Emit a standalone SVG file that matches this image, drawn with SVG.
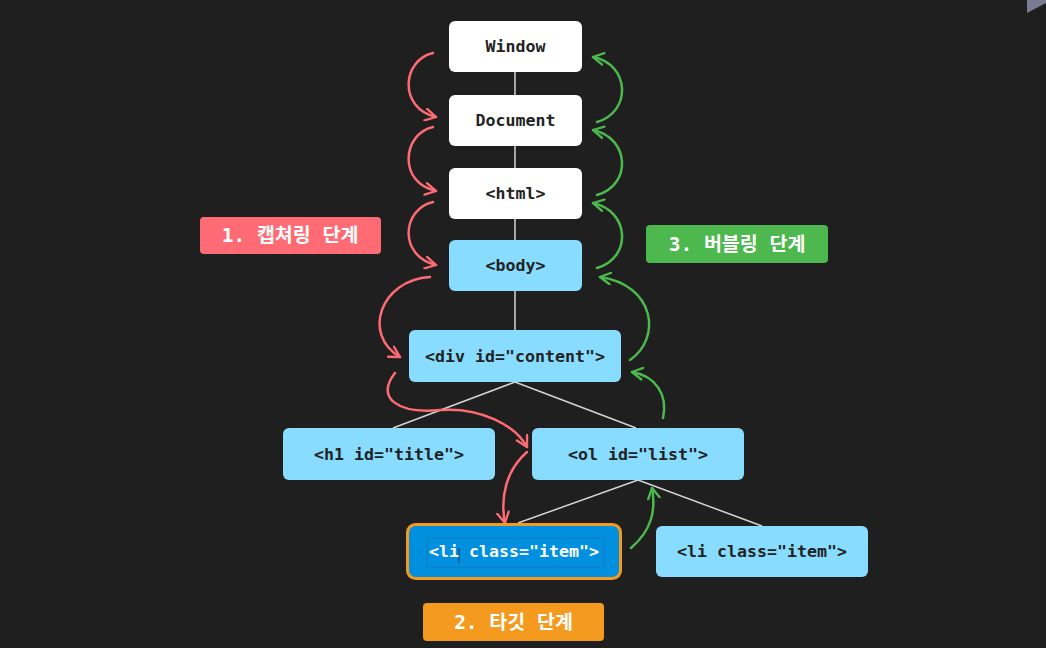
<svg xmlns="http://www.w3.org/2000/svg" width="1046" height="648" viewBox="0 0 1046 648">
<defs>
<style>
.bg{fill:#1f1f1f}
.node{stroke:none}
.white{fill:#ffffff}
.blue{fill:#87dcff}
.t{font-family:"DejaVu Sans Mono","Liberation Mono",monospace;font-weight:bold;font-size:16.6px;fill:#222222;text-anchor:middle;dominant-baseline:central}
.tw{fill:#ffffff}
.lbl{font-family:"DejaVu Sans Mono","Noto Sans CJK KR",monospace;font-weight:bold;font-size:19.5px;fill:#ffffff;text-anchor:middle;dominant-baseline:central}
.edge{stroke:#d4d4d4;stroke-width:1.5;fill:none}
.red{stroke:#ff6b74;stroke-width:2.5;fill:none;stroke-linecap:round}
.green{stroke:#4db84d;stroke-width:2.5;fill:none;stroke-linecap:round}
</style>
<marker id="ar" viewBox="0 0 12 12" refX="10" refY="6" markerWidth="14" markerHeight="14" markerUnits="userSpaceOnUse" orient="auto">
<path d="M1,1 L10,6 L1,11" fill="none" stroke="#ff6b74" stroke-width="2" stroke-linecap="round" stroke-linejoin="round"/>
</marker>
<marker id="ag" viewBox="0 0 12 12" refX="10" refY="6" markerWidth="14" markerHeight="14" markerUnits="userSpaceOnUse" orient="auto">
<path d="M1,1 L10,6 L1,11" fill="none" stroke="#4db84d" stroke-width="2" stroke-linecap="round" stroke-linejoin="round"/>
</marker>
</defs>
<rect class="bg" x="0" y="0" width="1046" height="648"/>
<polygon points="1027,0 1046,0 1046,3 1027,13" fill="#7a7a90"/>

<g id="connectors">
<line class="edge" x1="515" y1="72" x2="515" y2="95"/>
<line class="edge" x1="515" y1="146" x2="515" y2="168"/>
<line class="edge" x1="515" y1="219" x2="515" y2="240"/>
<line class="edge" x1="515" y1="291" x2="515" y2="330"/>
<line class="edge" x1="515" y1="382" x2="393" y2="428"/>
<line class="edge" x1="515" y1="382" x2="636" y2="428"/>
<line class="edge" x1="638" y1="480" x2="518" y2="523"/>
<line class="edge" x1="638" y1="480" x2="762" y2="526"/>

<path class="red" marker-end="url(#ar)" d="M433,53 C402,60 398,108 436,117"/>
<path class="red" marker-end="url(#ar)" d="M433,127 C402,134 398,183 436,191"/>
<path class="red" marker-end="url(#ar)" d="M433,202 C402,209 398,256 436,265"/>
<path class="red" marker-end="url(#ar)" d="M430,277 C380,280 362,335 400,357"/>
<path class="red" marker-end="url(#ar)" d="M395,373 C375,398 398,414 440,410 C480,407 515,425 527,447"/>
<path class="red" marker-end="url(#ar)" d="M527,452 C506,470 500,498 505,523"/>

<path class="green" marker-end="url(#ag)" d="M597,122 C632,112 630,64 593,57"/>
<path class="green" marker-end="url(#ag)" d="M597,195 C632,185 630,138 593,130"/>
<path class="green" marker-end="url(#ag)" d="M597,268 C632,258 630,211 593,203"/>
<path class="green" marker-end="url(#ag)" d="M630,360 C662,338 655,285 600,277"/>
<path class="green" marker-end="url(#ag)" d="M663,418 C668,395 656,376 632,372"/>
<path class="green" marker-end="url(#ag)" d="M631,548 C652,530 656,510 652,488"/>
</g>

<g id="window"><rect class="node white" x="449" y="21" width="133" height="51" rx="6"/><text class="t" x="515.5" y="46.5">Window</text></g>
<g id="document"><rect class="node white" x="449" y="95" width="133" height="51" rx="6"/><text class="t" x="515.5" y="120.5">Document</text></g>
<g id="html"><rect class="node white" x="449" y="168" width="133" height="51" rx="6"/><text class="t" x="515.5" y="193.5">&lt;html&gt;</text></g>
<g id="body"><rect class="node blue" x="449" y="240" width="133" height="51" rx="6"/><text class="t" x="515.5" y="265.5">&lt;body&gt;</text></g>
<g id="div"><rect class="node blue" x="409" y="330" width="212" height="52" rx="6"/><text class="t" x="515" y="356">&lt;div id="content"&gt;</text></g>
<g id="h1"><rect class="node blue" x="283" y="428" width="212" height="52" rx="6"/><text class="t" x="389" y="454">&lt;h1 id="title"&gt;</text></g>
<g id="ol"><rect class="node blue" x="532" y="428" width="212" height="52" rx="6"/><text class="t" x="638" y="454">&lt;ol id="list"&gt;</text></g>
<g id="li-target"><rect x="407.5" y="524.5" width="213" height="54" rx="8" fill="#0090df" stroke="#f39a1f" stroke-width="3"/><rect x="427" y="538" width="177" height="29" fill="none" stroke="#1a78b8" stroke-width="1"/><line x1="459" y1="548" x2="459" y2="563" stroke="#2a3a4a" stroke-width="1"/><text class="t tw" x="514" y="551.5">&lt;li class="item"&gt;</text></g>
<g id="li-2"><rect class="node blue" x="656" y="526" width="212" height="51" rx="6"/><text class="t" x="762" y="551.5">&lt;li class="item"&gt;</text></g>

<g id="label-capture"><rect x="200" y="217" width="181" height="37" rx="4" fill="#ff6b74"/><text class="lbl" x="290" y="235.5">1. 캡쳐링 단계</text></g>
<g id="label-bubble"><rect x="646" y="225" width="182" height="38" rx="4" fill="#4db84d"/><text class="lbl" x="737" y="244">3. 버블링 단계</text></g>
<g id="label-target"><rect x="423" y="603" width="181" height="38" rx="4" fill="#f39a1f"/><text class="lbl" x="513.5" y="622">2. 타깃 단계</text></g>
</svg>
